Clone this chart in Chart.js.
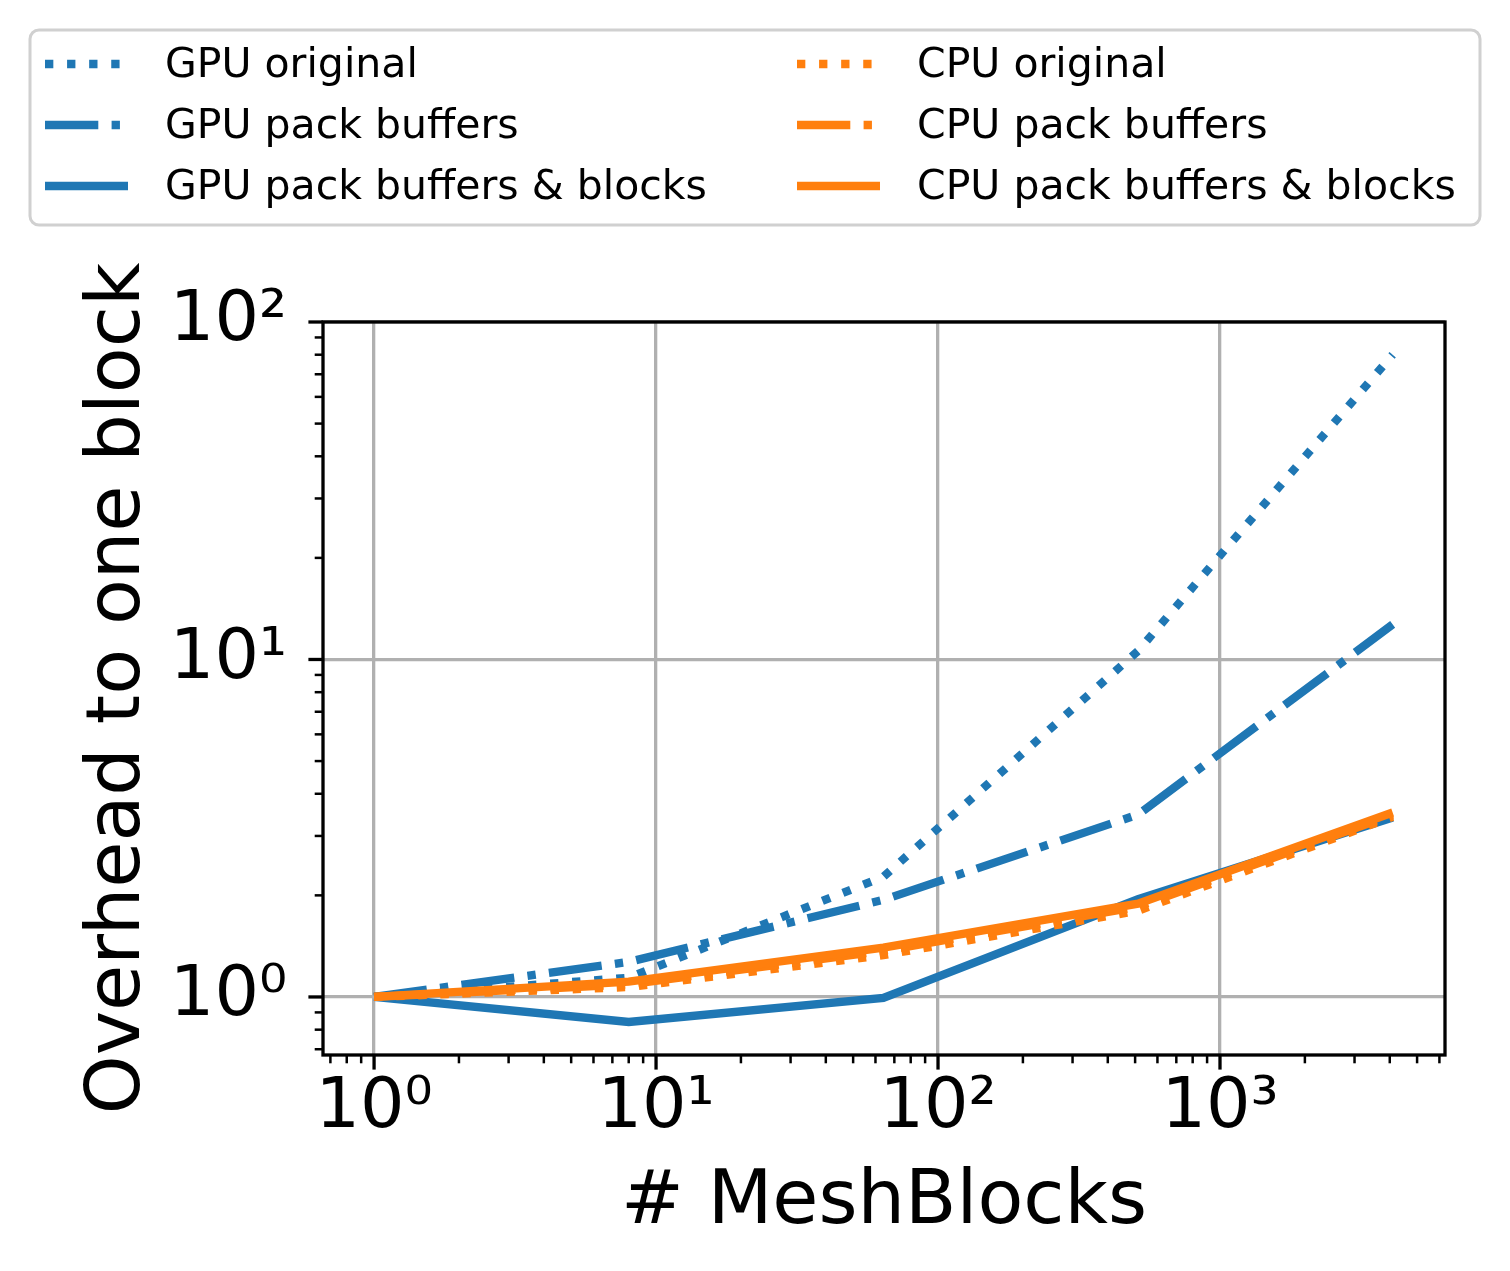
<!DOCTYPE html>
<html>
<head>
<meta charset="utf-8">
<script src="https://cdn.jsdelivr.net/npm/chart.js@4"></script>
<style>
  html, body { margin: 0; padding: 0; background: #fff; }
  #wrap { width: 1510px; height: 1271px; }
</style>
</head>
<body>
<div id="wrap"><canvas id="myChart"></canvas></div>
<script>
// values
const meshBlocks = [1, 8, 64, 512, 4096];
const gpuOriginal = [1.0, 1.14, 2.27, 10.6, 80];
const gpuPackBuffers = [1.0, 1.27, 1.94, 3.47, 12.7];
const gpuPackBlocks = [1.0, 0.843, 0.993, 1.95, 3.40];
const cpuOriginal = [1.0, 1.07, 1.33, 1.80, 3.42];
const cpuPackBuffers = [1.0, 1.09, 1.37, 1.85, 3.47];
const cpuPackBlocks = [1.0, 1.11, 1.40, 1.89, 3.52];

const xMajorTicks = [1, 10, 100, 1000];
const xTickLabels = ["10⁰", "10¹", "10²", "10³"];
const yMajorTicks = [1, 10, 100];
const yTickLabels = ["10⁰", "10¹", "10²"];

const BLUE = "#1f77b4";
const ORANGE = "#ff7f0e";
const LW = 8.33;
const DOTTED = [8.33, 13.75];
const DASHDOT = [53.3, 13.3, 8.33, 13.3];

Chart.defaults.font.family = "'DejaVu Sans', sans-serif";
Chart.defaults.color = "#000";

// log ticks 1..9 per decade between min and max
const logTicks = (min, max) => {
  const out = [];
  for (let d = Math.floor(Math.log10(min)); d <= Math.ceil(Math.log10(max)); d++) {
    for (let m = 1; m <= 9; m++) {
      const v = Number((m * Math.pow(10, d)).toPrecision(6));
      if (v >= min && v <= max) out.push(v);
    }
  }
  return out;
};
const majorIndex = (v, list) => list.findIndex((m) => Math.abs(v - m) / m < 1e-6);

const series = (label, values, color, dash) => ({
  label,
  data: meshBlocks.map((x, i) => ({ x, y: values[i] })),
  borderColor: color,
  backgroundColor: color,
  borderWidth: LW,
  borderDash: dash,
  borderCapStyle: "butt",
  pointRadius: 0,
  tension: 0,
  fill: false,
});

const datasets = [
  series("GPU original", gpuOriginal, BLUE, DOTTED),
  series("GPU pack buffers", gpuPackBuffers, BLUE, DASHDOT),
  series("GPU pack buffers & blocks", gpuPackBlocks, BLUE, []),
  series("CPU original", cpuOriginal, ORANGE, DOTTED),
  series("CPU pack buffers", cpuPackBuffers, ORANGE, DASHDOT),
  series("CPU pack buffers & blocks", cpuPackBlocks, ORANGE, []),
];
// later series on top, like matplotlib
datasets.forEach((ds, i) => (ds.order = -i));

// spines and tick marks (major long, minor short)
const axisFrame = {
  id: "axisFrame",
  afterDraw(chart) {
    const { ctx, chartArea: a, scales } = chart;
    ctx.save();
    ctx.strokeStyle = "#000";
    scales.x.ticks.forEach((t) => {
      const major = majorIndex(t.value, xMajorTicks) >= 0;
      const px = scales.x.getPixelForValue(t.value);
      ctx.lineWidth = major ? 3.3 : 2.5;
      ctx.beginPath();
      ctx.moveTo(px, a.bottom);
      ctx.lineTo(px, a.bottom + (major ? 14.6 : 8.3));
      ctx.stroke();
    });
    scales.y.ticks.forEach((t) => {
      const major = majorIndex(t.value, yMajorTicks) >= 0;
      const py = scales.y.getPixelForValue(t.value);
      ctx.lineWidth = major ? 3.3 : 2.5;
      ctx.beginPath();
      ctx.moveTo(a.left, py);
      ctx.lineTo(a.left - (major ? 14.6 : 8.3), py);
      ctx.stroke();
    });
    ctx.lineWidth = 3.3;
    ctx.strokeRect(a.left, a.top, a.right - a.left, a.bottom - a.top);
    ctx.restore();
  },
};

// two column legend above the axes
const legendBox = {
  id: "legendBox",
  afterDraw(chart) {
    const ctx = chart.ctx;
    ctx.save();
    ctx.beginPath();
    ctx.roundRect(30, 30, 1450, 195, 9);
    ctx.fillStyle = "rgba(255,255,255,0.8)";
    ctx.fill();
    ctx.lineWidth = 3;
    ctx.strokeStyle = "#d0d0d0";
    ctx.stroke();
    ctx.font = "41px 'DejaVu Sans', sans-serif";
    ctx.textBaseline = "middle";
    chart.data.datasets.forEach((ds, i) => {
      const col = Math.floor(i / 3);
      const row = i % 3;
      const x0 = col ? 797 : 45;
      const y = 64 + row * 61;
      ctx.strokeStyle = ds.borderColor;
      ctx.lineWidth = LW;
      ctx.lineCap = "butt";
      ctx.setLineDash(ds.borderDash);
      ctx.beginPath();
      ctx.moveTo(x0, y);
      ctx.lineTo(x0 + 83, y);
      ctx.stroke();
      ctx.setLineDash([]);
      ctx.fillStyle = "#000";
      ctx.fillText(ds.label, x0 + 120, y + 2);
    });
    ctx.restore();
  },
};

const ctx = document.getElementById("myChart");
new Chart(ctx, {
  type: "line",
  data: { datasets },
  plugins: [axisFrame, legendBox],
  options: {
    responsive: true,
    maintainAspectRatio: false,
    animation: false,
    layout: { padding: { top: 322, right: 65, left: 0, bottom: 0 } },
    plugins: { legend: { display: false }, tooltip: { enabled: false } },
    scales: {
      x: {
        type: "logarithmic",
        min: 0.659,
        max: 6280,
        afterFit: (s) => { s.height = 216; },
        afterBuildTicks: (s) => { s.ticks = logTicks(0.659, 6280).map((value) => ({ value })); },
        ticks: {
          autoSkip: false,
          maxRotation: 0,
          minRotation: 0,
          padding: 12,
          font: { size: 70 },
          callback: (v) => {
            const k = majorIndex(v, xMajorTicks);
            return k >= 0 ? xTickLabels[k] : "";
          },
        },
        grid: {
          drawTicks: false,
          lineWidth: 3.3,
          color: (c) => (majorIndex(c.tick.value, xMajorTicks) >= 0 ? "#b0b0b0" : "rgba(0,0,0,0)"),
        },
        border: { display: false },
        title: {
          display: true,
          text: "# MeshBlocks",
          font: { size: 75 },
          padding: { top: 0, bottom: 22 },
        },
      },
      y: {
        type: "logarithmic",
        min: 0.673,
        max: 100,
        afterFit: (s) => { s.width = 323; },
        afterBuildTicks: (s) => { s.ticks = logTicks(0.673, 100).map((value) => ({ value })); },
        ticks: {
          autoSkip: false,
          padding: 36,
          font: { size: 70 },
          callback: (v) => {
            const k = majorIndex(v, yMajorTicks);
            return k >= 0 ? yTickLabels[k] : "";
          },
        },
        grid: {
          drawTicks: false,
          lineWidth: 3.3,
          color: (c) => (majorIndex(c.tick.value, yMajorTicks) >= 0 ? "#b0b0b0" : "rgba(0,0,0,0)"),
        },
        border: { display: false },
        title: {
          display: true,
          text: "Overhead to one block",
          font: { size: 75 },
          padding: { top: 75, bottom: 0 },
        },
      },
    },
  },
});
</script>
</body>
</html>
